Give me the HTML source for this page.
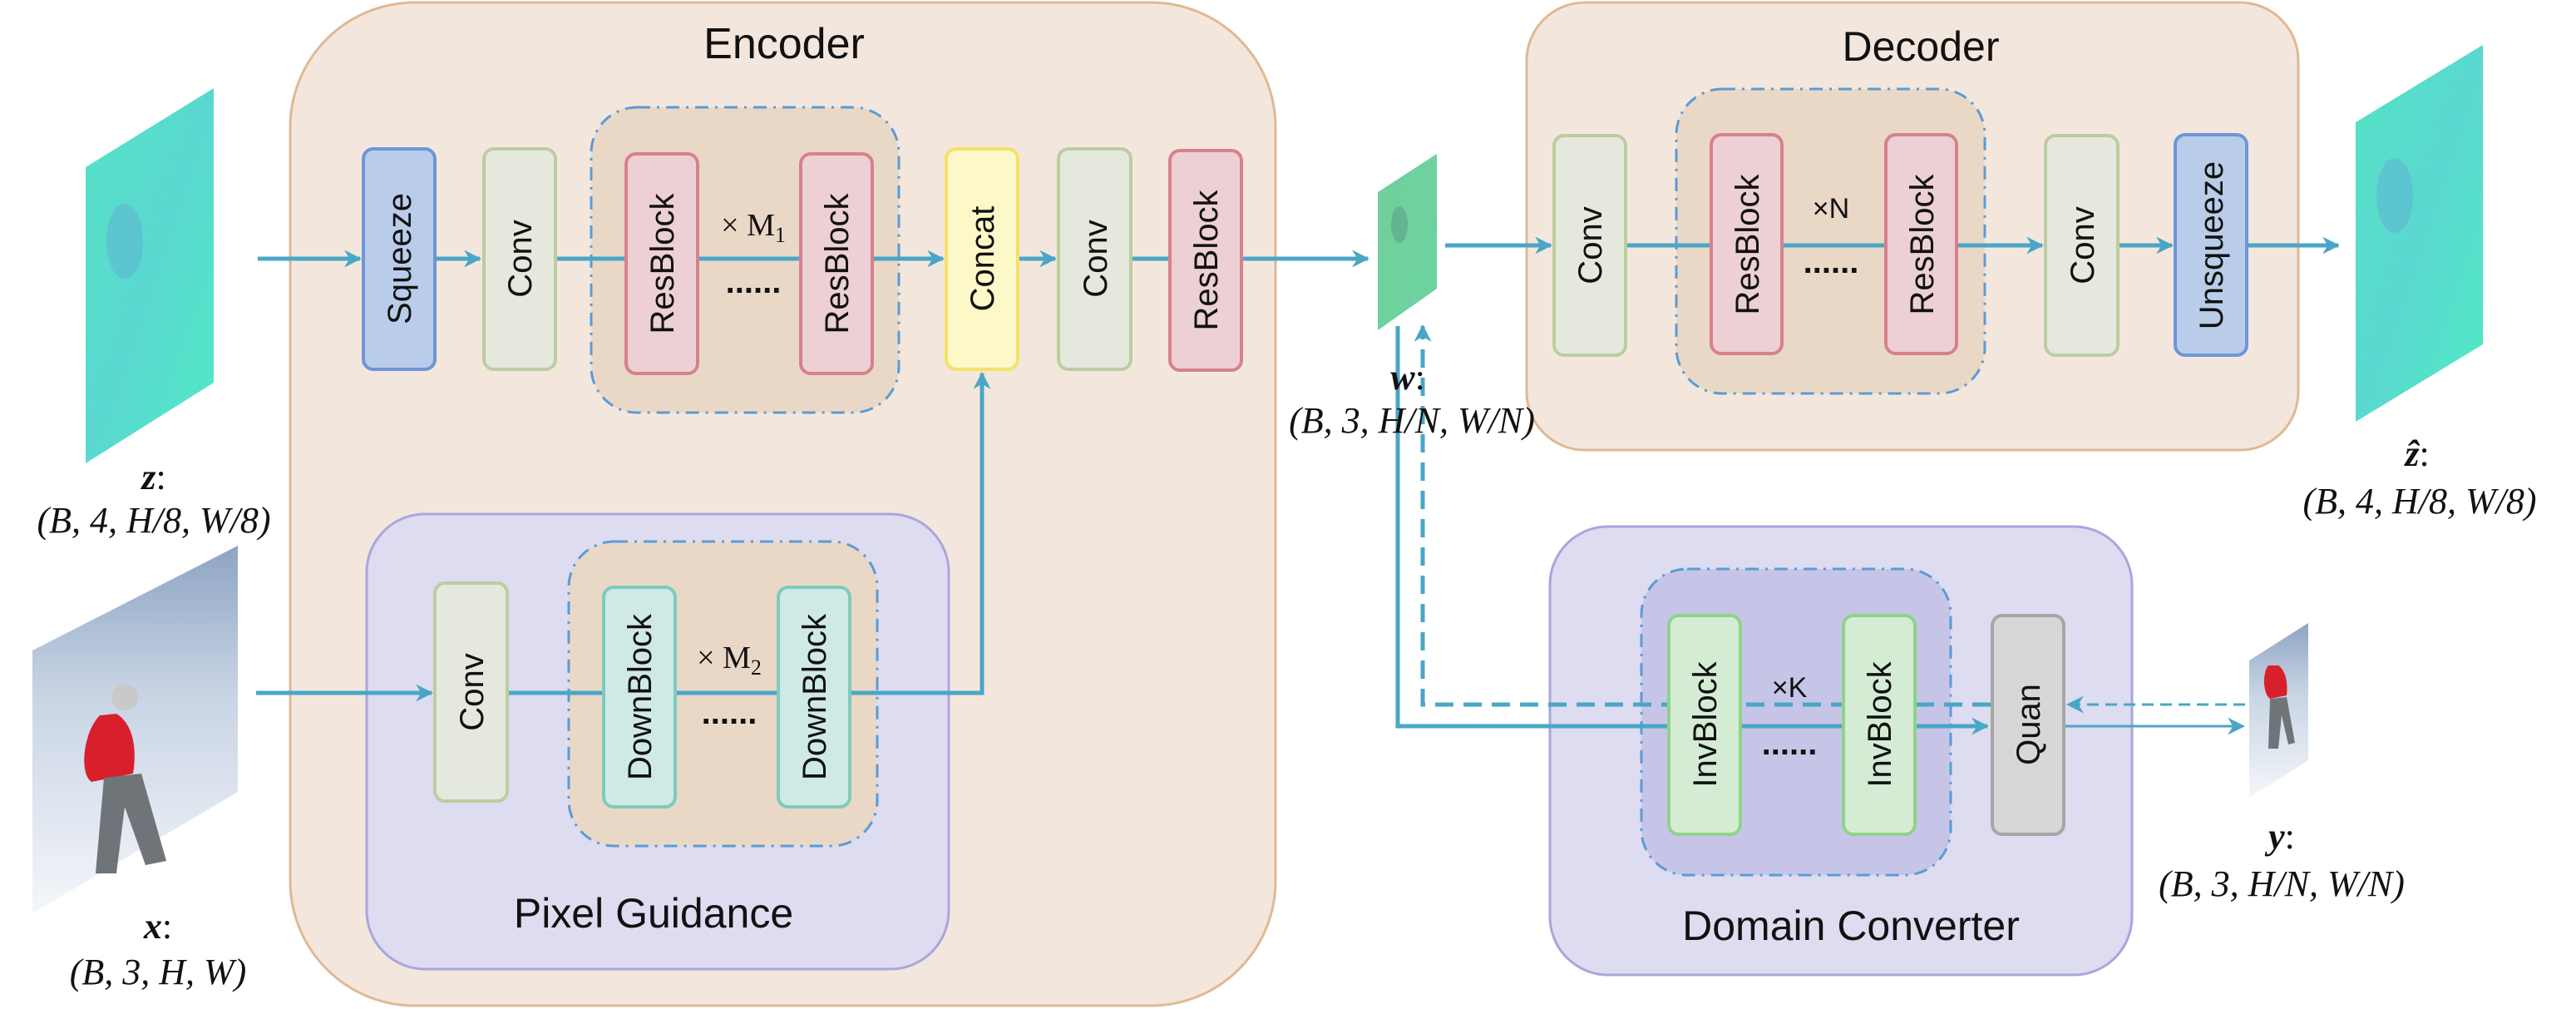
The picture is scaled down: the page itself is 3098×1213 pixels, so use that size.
<!DOCTYPE html>
<html><head><meta charset="utf-8"><style>
html,body{margin:0;padding:0;background:#fff;}
svg{display:block;}
.t{font-family:"Liberation Sans",sans-serif;fill:#111;}
.m{font-family:"Liberation Serif",serif;font-style:italic;fill:#111;}
</style></head><body>
<svg width="3098" height="1213" viewBox="0 0 3098 1213" xmlns="http://www.w3.org/2000/svg">
<defs>
<marker id="ah" viewBox="0 0 10 10" refX="9" refY="5" markerWidth="4.2" markerHeight="4.2" orient="auto" markerUnits="strokeWidth"><path d="M0,0 L10,5 L0,10 L3,5 z" fill="#4aa6c6"/></marker>
<marker id="ah2" viewBox="0 0 10 10" refX="9" refY="5" markerWidth="7" markerHeight="7" orient="auto" markerUnits="strokeWidth"><path d="M0,0 L10,5 L0,10 L3,5 z" fill="#4aa6c6"/></marker>
<linearGradient id="gz" x1="0" y1="0" x2="1" y2="1"><stop offset="0" stop-color="#55e2c6"/><stop offset="0.5" stop-color="#5ad8d0"/><stop offset="1" stop-color="#50eac4"/></linearGradient>
<linearGradient id="gw" x1="0" y1="0" x2="1" y2="1"><stop offset="0" stop-color="#72cf9c"/><stop offset="1" stop-color="#6bd4a0"/></linearGradient>
<linearGradient id="gx" x1="0" y1="0" x2="0" y2="1"><stop offset="0" stop-color="#8ea4c4"/><stop offset="0.4" stop-color="#c8d4e4"/><stop offset="1" stop-color="#f4f6fa"/></linearGradient>
</defs>

<!-- Encoder -->
<rect x="349" y="3" width="1185" height="1206" rx="150" fill="#f3e7dd" stroke="#dfb994" stroke-width="3"/>
<text x="943" y="70" class="t" font-size="52" text-anchor="middle">Encoder</text>
<rect x="711" y="129" width="370" height="367" rx="55" fill="#ead8c6" stroke="#5b9bd5" stroke-width="3" stroke-dasharray="16,8,3,8"/>

<!-- Pixel guidance -->
<rect x="441" y="618" width="700" height="547" rx="70" fill="#dedcf0" stroke="#aaa5dd" stroke-width="3"/>
<rect x="684" y="651" width="371" height="366" rx="55" fill="#ead8c6" stroke="#5b9bd5" stroke-width="3" stroke-dasharray="16,8,3,8"/>
<text x="786" y="1115" class="t" font-size="50" text-anchor="middle">Pixel Guidance</text>

<!-- Decoder -->
<rect x="1836" y="3" width="928" height="538" rx="70" fill="#f3e7dd" stroke="#dfb994" stroke-width="3"/>
<text x="2310" y="73" class="t" font-size="50" text-anchor="middle">Decoder</text>
<rect x="2016" y="107" width="371" height="366" rx="55" fill="#ead8c6" stroke="#5b9bd5" stroke-width="3" stroke-dasharray="16,8,3,8"/>

<!-- Domain converter -->
<rect x="1864" y="633" width="700" height="539" rx="70" fill="#dedcf0" stroke="#aaa5dd" stroke-width="3"/>
<rect x="1974" y="684" width="372" height="368" rx="55" fill="#c6c5e8" stroke="#5b9bd5" stroke-width="3" stroke-dasharray="16,8,3,8"/>
<text x="2226" y="1130" class="t" font-size="50" text-anchor="middle">Domain Converter</text>

<!-- connectors -->
<g stroke="#4aa6c6" stroke-width="5" fill="none">
<line x1="310" y1="311" x2="433" y2="311" marker-end="url(#ah)"/>
<line x1="524" y1="311" x2="577" y2="311" marker-end="url(#ah)"/>
<line x1="668" y1="311" x2="1134" y2="311" marker-end="url(#ah)"/>
<line x1="1224" y1="311" x2="1269" y2="311" marker-end="url(#ah)"/>
<line x1="1360" y1="311" x2="1407" y2="311"/>
<line x1="1493" y1="311" x2="1645" y2="311" marker-end="url(#ah)"/>
<polyline points="308,833 519,833" marker-end="url(#ah)"/>
<polyline points="610,833 1181,833 1181,449" marker-end="url(#ah)"/>
<line x1="1738" y1="295" x2="1865" y2="295" marker-end="url(#ah)"/>
<line x1="1955" y1="295" x2="2456" y2="295" marker-end="url(#ah)"/>
<line x1="2547" y1="295" x2="2612" y2="295" marker-end="url(#ah)"/>
<line x1="2702" y1="295" x2="2812" y2="295" marker-end="url(#ah)"/>
<polyline points="1681,392 1681,873 2390,873" marker-end="url(#ah)"/>
<line x1="2483" y1="873" x2="2698" y2="873" stroke-width="3" marker-end="url(#ah2)"/>
<polyline points="2394,847 1711,847 1711,392" stroke-dasharray="22,12" marker-end="url(#ah)"/>
<line x1="2700" y1="847" x2="2487" y2="847" stroke-width="3" stroke-dasharray="14,8" marker-end="url(#ah2)"/>
</g>

<!-- blocks -->
<g stroke-width="4">
<rect x="437" y="179" width="86" height="265" rx="12" fill="#b9cdea" stroke="#6e95d8"/>
<rect x="582" y="179" width="86" height="265" rx="12" fill="#e5e8dc" stroke="#bccda0"/>
<rect x="753" y="185" width="86" height="264" rx="12" fill="#ecd0d4" stroke="#d6818d"/>
<rect x="963" y="185" width="86" height="264" rx="12" fill="#ecd0d4" stroke="#d6818d"/>
<rect x="1138" y="179" width="86" height="265" rx="12" fill="#fdf8c8" stroke="#f5e06a"/>
<rect x="1273" y="179" width="87" height="265" rx="12" fill="#e5e8dc" stroke="#bccda0"/>
<rect x="1407" y="181" width="86" height="264" rx="12" fill="#ecd0d4" stroke="#d6818d"/>
<rect x="523" y="701" width="87" height="262" rx="12" fill="#e5e8dc" stroke="#bccda0"/>
<rect x="726" y="706" width="86" height="264" rx="12" fill="#cfeae5" stroke="#7fcabf"/>
<rect x="936" y="706" width="86" height="264" rx="12" fill="#cfeae5" stroke="#7fcabf"/>
<rect x="1869" y="163" width="86" height="264" rx="12" fill="#e5e8dc" stroke="#bccda0"/>
<rect x="2058" y="162" width="85" height="263" rx="12" fill="#ecd0d4" stroke="#d6818d"/>
<rect x="2268" y="162" width="85" height="263" rx="12" fill="#ecd0d4" stroke="#d6818d"/>
<rect x="2460" y="163" width="87" height="264" rx="12" fill="#e5e8dc" stroke="#bccda0"/>
<rect x="2616" y="162" width="86" height="265" rx="12" fill="#b9cdea" stroke="#6e95d8"/>
<rect x="2007" y="740" width="86" height="263" rx="12" fill="#d4ecd4" stroke="#90d28a"/>
<rect x="2217" y="740" width="86" height="263" rx="12" fill="#d4ecd4" stroke="#90d28a"/>
<rect x="2396" y="740" width="86" height="263" rx="12" fill="#d7d7d7" stroke="#a6a6a6"/>
</g>

<g class="t" font-size="40" text-anchor="middle">
<text transform="translate(494,311) rotate(-90)">Squeeze</text>
<text transform="translate(639,311) rotate(-90)">Conv</text>
<text transform="translate(810,317) rotate(-90)">ResBlock</text>
<text transform="translate(1020,317) rotate(-90)">ResBlock</text>
<text transform="translate(1195,311) rotate(-90)">Concat</text>
<text transform="translate(1331,311) rotate(-90)">Conv</text>
<text transform="translate(1464,313) rotate(-90)">ResBlock</text>
<text transform="translate(581,832) rotate(-90)">Conv</text>
<text transform="translate(783,838) rotate(-90)">DownBlock</text>
<text transform="translate(993,838) rotate(-90)">DownBlock</text>
<text transform="translate(1926,295) rotate(-90)">Conv</text>
<text transform="translate(2115,294) rotate(-90)">ResBlock</text>
<text transform="translate(2325,294) rotate(-90)">ResBlock</text>
<text transform="translate(2518,295) rotate(-90)">Conv</text>
<text transform="translate(2673,295) rotate(-90)">Unsqueeze</text>
<text transform="translate(2064,871) rotate(-90)">InvBlock</text>
<text transform="translate(2274,871) rotate(-90)">InvBlock</text>
<text transform="translate(2453,871) rotate(-90)">Quan</text>
</g>

<g font-size="38">
<text x="906" y="283" text-anchor="middle" font-family="Liberation Serif,serif" fill="#111">× M<tspan font-size="26" dy="8">1</tspan></text>
<text x="877" y="803" text-anchor="middle" font-family="Liberation Serif,serif" fill="#111">× M<tspan font-size="26" dy="8">2</tspan></text>
<text x="2202" y="262" text-anchor="middle" class="t" font-size="34">×N</text>
<text x="2152" y="838" text-anchor="middle" class="t" font-size="34">×K</text>
</g>
<g class="t" font-size="40" font-weight="bold" text-anchor="middle">
<text x="906" y="352">......</text>
<text x="877" y="870">......</text>
<text x="2202" y="328">......</text>
<text x="2152" y="907">......</text>
</g>

<!-- images -->
<polygon points="103,201 257,106 257,460 103,557" fill="url(#gz)"/>
<ellipse cx="150" cy="290" rx="22" ry="45" fill="#5fb6d2" opacity="0.6"/>
<polygon points="1657,231 1728,185 1728,347 1657,397" fill="url(#gw)"/>
<ellipse cx="1683" cy="270" rx="10" ry="22" fill="#5f9f8a" opacity="0.6"/>
<polygon points="2833,147 2986,54 2986,414 2833,507" fill="url(#gz)"/>
<ellipse cx="2880" cy="235" rx="22" ry="45" fill="#5fb6d2" opacity="0.6"/>
<polygon points="39,782 286,656 286,952 39,1098" fill="url(#gx)"/>
<path d="M120,860 C100,880 95,930 110,940 L160,930 C165,900 160,870 140,858 Z" fill="#d8202c"/>
<circle cx="150" cy="838" r="16" fill="#c9c9c9"/>
<path d="M125,935 L115,1050 L140,1050 L150,970 L175,1040 L200,1035 L170,930 Z" fill="#6f7479"/>
<polygon points="2705,794 2776,749 2776,914 2705,959" fill="url(#gx)"/>
<path d="M2728,800 C2720,810 2722,835 2730,840 L2750,836 C2752,820 2748,805 2740,800 Z" fill="#d8202c"/>
<path d="M2730,840 L2728,900 L2740,900 L2744,860 L2752,895 L2760,893 L2750,838 Z" fill="#6f7479"/>

<!-- labels -->
<g class="m" font-size="44" text-anchor="middle">
<text x="185" y="588"><tspan font-weight="bold">z</tspan><tspan font-style="normal">:</tspan></text>
<text x="185" y="640">(B, 4, H/8, W/8)</text>
<text x="190" y="1128"><tspan font-weight="bold">x</tspan><tspan font-style="normal">:</tspan></text>
<text x="190" y="1183">(B, 3, H, W)</text>
<text x="1693" y="468"><tspan font-weight="bold">w</tspan><tspan font-style="normal">:</tspan></text>
<text x="1698" y="520">(B, 3, H/N, W/N)</text>
<text x="2907" y="560"><tspan font-weight="bold">ẑ</tspan><tspan font-style="normal">:</tspan></text>
<text x="2910" y="617">(B, 4, H/8, W/8)</text>
<text x="2744" y="1020"><tspan font-weight="bold">y</tspan><tspan font-style="normal">:</tspan></text>
<text x="2744" y="1077">(B, 3, H/N, W/N)</text>
</g>
</svg>
</body></html>
